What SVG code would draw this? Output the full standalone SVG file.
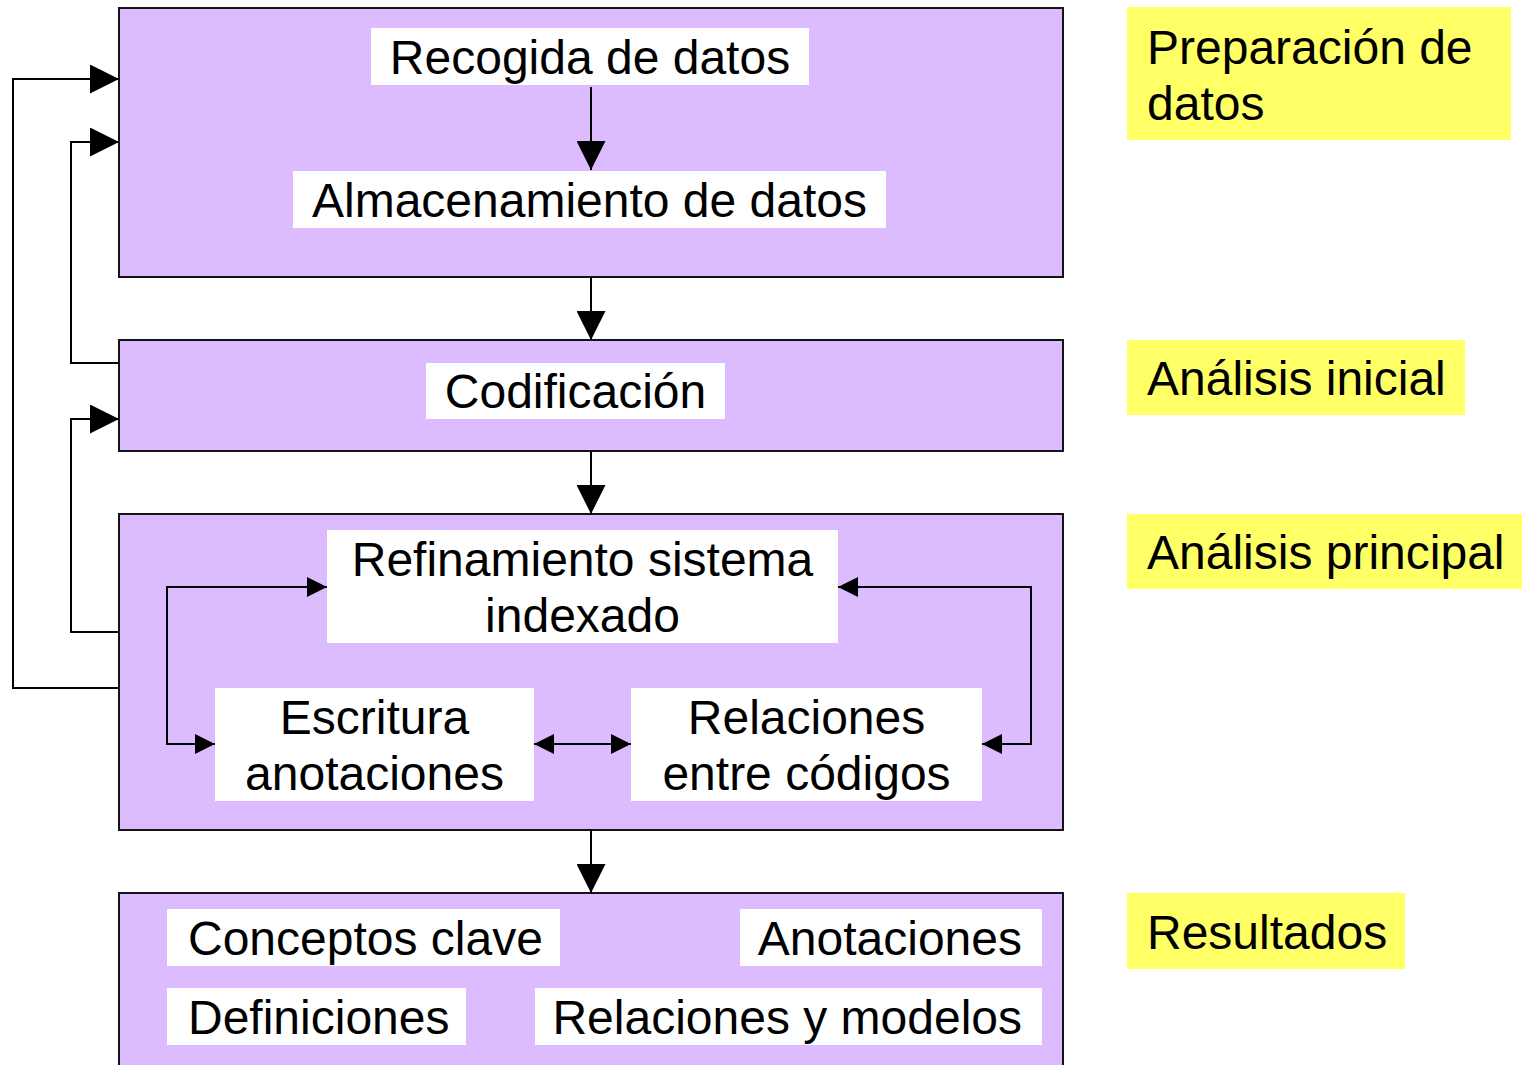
<svg xmlns="http://www.w3.org/2000/svg" width="1525" height="1065" viewBox="0 0 1525 1065">
<defs>
<style>
text{font-family:"Liberation Sans",Arial,sans-serif;font-size:48px;fill:#000}
.stage{fill:#dcbcfe;stroke:#141414;stroke-width:2}
.lbl{fill:#fff}
.note{fill:#ffff66}
.c{text-anchor:middle}
.e{text-anchor:end}
.conn{fill:none;stroke:#000;stroke-width:2}
.big{marker-end:url(#ab)}
.sm{marker-end:url(#as);marker-start:url(#as)}
</style>
<marker id="ab" viewBox="0 0 10 10" refX="10" refY="5" markerWidth="29" markerHeight="29" markerUnits="userSpaceOnUse" orient="auto-start-reverse"><path d="M0,0 L10,5 L0,10 z" fill="#000"/></marker>
<marker id="as" viewBox="0 0 10 10" refX="10" refY="5" markerWidth="20" markerHeight="20" markerUnits="userSpaceOnUse" orient="auto-start-reverse"><path d="M0,0 L10,5 L0,10 z" fill="#000"/></marker>
</defs>
<rect width="1525" height="1065" fill="#fff"/>

<g id="stage-preparacion">
<rect class="stage" x="119" y="8" width="944" height="269"/>
</g>
<g id="stage-inicial">
<rect class="stage" x="119" y="340" width="944" height="111"/>
</g>
<g id="stage-principal">
<rect class="stage" x="119" y="514" width="944" height="316"/>
</g>
<g id="stage-resultados">
<rect class="stage" x="119" y="893" width="944" height="180"/>
</g>

<g id="connectors">
<path class="conn big" d="M591,87 V170"/>
<path class="conn big" d="M591,277 V340"/>
<path class="conn big" d="M591,451 V514"/>
<path class="conn big" d="M591,830 V893"/>
<path class="conn big" d="M119,688 H13 V79 H119"/>
<path class="conn big" d="M119,363 H71 V142 H119"/>
<path class="conn big" d="M119,632 H71 V419 H119"/>
<path class="conn sm" d="M215,744 H167 V587 H327"/>
<path class="conn sm" d="M838,587 H1031 V744 H982"/>
<path class="conn sm" d="M534,744 H631"/>
</g>

<g id="n-recogida">
<rect class="lbl" x="371" y="28" width="438" height="57"/>
<text class="c" x="590" y="74">Recogida de datos</text>
</g>
<g id="n-almacenamiento">
<rect class="lbl" x="293" y="171" width="593" height="57"/>
<text class="c" x="589.5" y="217">Almacenamiento de datos</text>
</g>
<g id="n-codificacion">
<rect class="lbl" x="426" y="363" width="299" height="56"/>
<text class="c" x="575.5" y="408">Codificación</text>
</g>
<g id="n-refinamiento">
<rect class="lbl" x="327" y="530" width="511" height="113"/>
<text class="c" x="582.5" y="576">Refinamiento sistema</text>
<text class="c" x="582.5" y="632">indexado</text>
</g>
<g id="n-escritura">
<rect class="lbl" x="215" y="688" width="319" height="113"/>
<text class="c" x="374.5" y="734">Escritura</text>
<text class="c" x="374.5" y="790">anotaciones</text>
</g>
<g id="n-relaciones">
<rect class="lbl" x="631" y="688" width="351" height="113"/>
<text class="c" x="806.5" y="734">Relaciones</text>
<text class="c" x="806.5" y="790">entre códigos</text>
</g>
<g id="n-conceptos">
<rect class="lbl" x="167" y="909" width="393" height="57"/>
<text x="188" y="955">Conceptos clave</text>
</g>
<g id="n-anotaciones">
<rect class="lbl" x="740" y="909" width="302" height="57"/>
<text class="e" x="1022" y="955">Anotaciones</text>
</g>
<g id="n-definiciones">
<rect class="lbl" x="167" y="988" width="299" height="57"/>
<text x="188" y="1034">Definiciones</text>
</g>
<g id="n-relaciones-modelos">
<rect class="lbl" x="535" y="988" width="507" height="57"/>
<text class="e" x="1022" y="1034">Relaciones y modelos</text>
</g>

<g id="note-preparacion">
<rect class="note" x="1127" y="7" width="384" height="133"/>
<text x="1147" y="64">Preparación de</text>
<text x="1147" y="120">datos</text>
</g>
<g id="note-inicial">
<rect class="note" x="1127" y="340" width="338" height="75"/>
<text x="1147" y="395">Análisis inicial</text>
</g>
<g id="note-principal">
<rect class="note" x="1127" y="514" width="395" height="75"/>
<text x="1147" y="569">Análisis principal</text>
</g>
<g id="note-resultados">
<rect class="note" x="1127" y="893" width="278" height="76"/>
<text x="1147" y="949">Resultados</text>
</g>
</svg>
